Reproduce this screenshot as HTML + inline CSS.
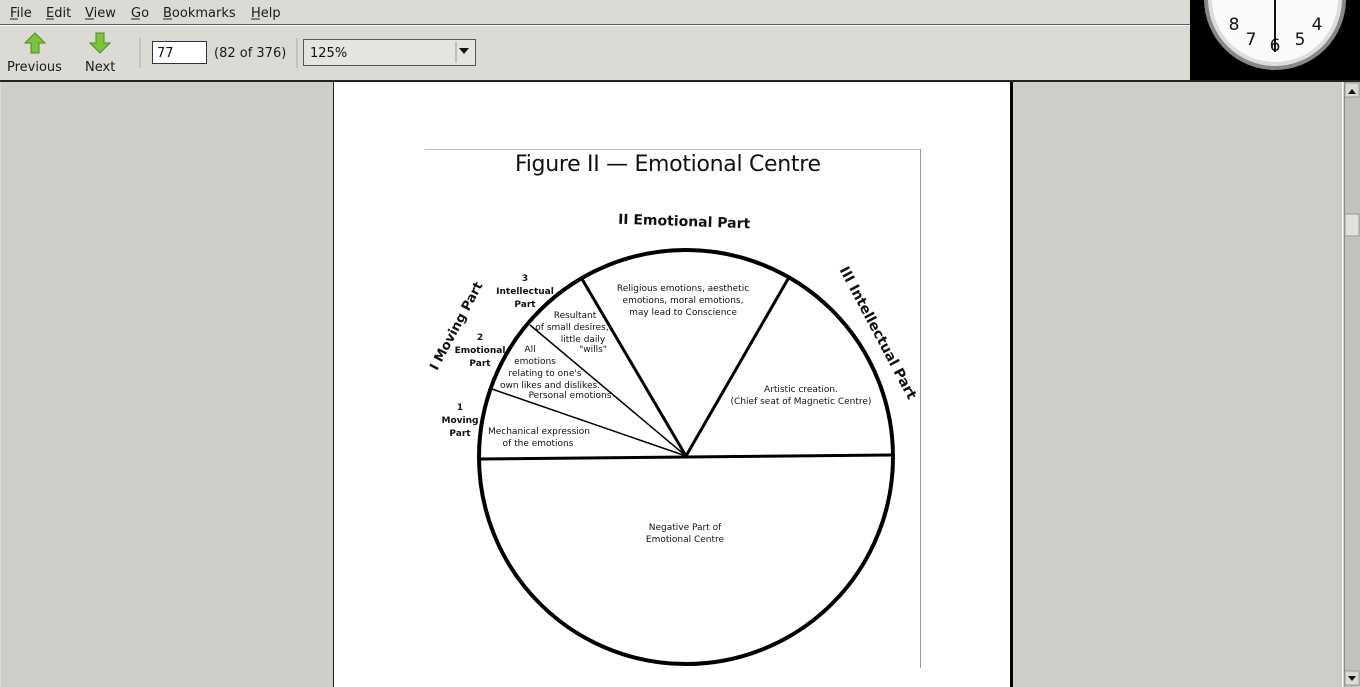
<!DOCTYPE html>
<html><head><meta charset="utf-8"><style>
html,body{margin:0;padding:0;width:1360px;height:687px;overflow:hidden;background:#dcdad5;font-family:"DejaVu Sans","Liberation Sans",sans-serif;}
</style></head><body>
<svg width="1360" height="687" viewBox="0 0 1360 687" xmlns="http://www.w3.org/2000/svg" style="position:absolute;left:0;top:0">
<rect x="0" y="0" width="1360" height="687" fill="#dcdad5"/>
<g font-family="DejaVu Sans,sans-serif" font-size="13" fill="#1a1a1a">
<text x="10" y="17">File</text><line x1="10" y1="19" x2="18" y2="19" stroke="#222"/>
<text x="46" y="17">Edit</text><line x1="46" y1="19" x2="54" y2="19" stroke="#222"/>
<text x="85" y="17">View</text><line x1="85" y1="19" x2="94" y2="19" stroke="#222"/>
<text x="131" y="17">Go</text><line x1="131" y1="19" x2="140" y2="19" stroke="#222"/>
<text x="163" y="17">Bookmarks</text><line x1="163" y1="19" x2="172" y2="19" stroke="#222"/>
<text x="251" y="17">Help</text><line x1="251" y1="19" x2="260" y2="19" stroke="#222"/>
</g>
<line x1="0" y1="24.5" x2="1190" y2="24.5" stroke="#5a5a5a"/>
<line x1="0" y1="25.5" x2="1190" y2="25.5" stroke="#fff"/>
<polygon points="35,33 45,43 39,43 39,53 31,53 31,43 25,43" fill="#7cc53a" stroke="#4b8c1e"/>
<polygon points="100,53 110,43 104,43 104,33 96,33 96,43 90,43" fill="#7cc53a" stroke="#4b8c1e"/>
<g font-size="13" fill="#1a1a1a">
<text x="7" y="71">Previous</text>
<text x="85" y="71">Next</text>
<text x="214" y="57">(82 of 376)</text>
</g>
<line x1="140" y1="38" x2="140" y2="68" stroke="#aaa"/>
<line x1="297" y1="38" x2="297" y2="68" stroke="#aaa"/>
<rect x="152.5" y="41.5" width="54" height="22" fill="#fff" stroke="#333"/>
<text x="157" y="57" font-size="13" fill="#111">77</text>
<rect x="303.5" y="39.5" width="172" height="26" fill="#e6e4e0" stroke="#555"/>
<line x1="456" y1="42" x2="456" y2="63" stroke="#999"/>
<polygon points="459,48 469,48 464,54" fill="#111"/>
<text x="310" y="57" font-size="13" fill="#111">125%</text>
<rect x="1190" y="0" width="170" height="82" fill="#000"/>
<circle cx="1275" cy="-1" r="71" fill="#888"/>
<circle cx="1275" cy="-1" r="67" fill="#ddd"/>
<circle cx="1275" cy="-1" r="63" fill="#fafafa"/>
<g font-size="17" fill="#111" font-family="DejaVu Sans,sans-serif" text-anchor="middle">
<text x="1234" y="30">8</text><text x="1251" y="45">7</text><text x="1275" y="51">6</text><text x="1300" y="45">5</text><text x="1317" y="30">4</text>
</g>
<line x1="1275" y1="-20" x2="1275" y2="52" stroke="#111" stroke-width="2"/>
<line x1="0" y1="81" x2="1360" y2="81" stroke="#222" stroke-width="2"/>
<rect x="1" y="82" width="332" height="605" fill="#cfcdc8"/>
<line x1="333.5" y1="82" x2="333.5" y2="687" stroke="#222"/>
<rect x="334" y="82" width="676" height="605" fill="#fff"/>
<rect x="1010" y="82" width="3" height="605" fill="#000"/>
<rect x="1013" y="82" width="330" height="605" fill="#cfcdc8"/>
<line x1="1342.5" y1="82" x2="1342.5" y2="687" stroke="#fff"/>
<rect x="1344" y="82" width="16" height="605" fill="#c3c1bc"/>
<line x1="1344.5" y1="82" x2="1344.5" y2="687" stroke="#888"/>
<rect x="1345" y="83" width="14" height="14" fill="#dcdad5" stroke="#999"/>
<polygon points="1348,94 1356,94 1352,89" fill="#111"/>
<rect x="1345" y="214" width="14" height="22" fill="#e2e0dc" stroke="#999"/>
<rect x="1345" y="671" width="14" height="14" fill="#dcdad5" stroke="#999"/>
<polygon points="1348,676 1356,676 1352,681" fill="#111"/>
<line x1="425" y1="149.5" x2="920" y2="149.5" stroke="#bbb"/>
<line x1="920.5" y1="149" x2="920.5" y2="668" stroke="#999"/>
<text x="668" y="171" font-family="DejaVu Sans,sans-serif" font-size="22" text-anchor="middle" fill="#111" textLength="306">Figure  II — Emotional  Centre</text>
<circle cx="686" cy="457" r="207" fill="none" stroke="#000" stroke-width="4"/>
<line x1="479" y1="459" x2="893" y2="455" stroke="#000" stroke-width="3"/>
<line x1="686" y1="456" x2="489" y2="388" stroke="#000" stroke-width="1.5"/>
<line x1="686" y1="456" x2="530" y2="325" stroke="#000" stroke-width="1.5"/>
<line x1="686" y1="456" x2="582" y2="279" stroke="#000" stroke-width="3"/>
<line x1="686" y1="456" x2="788" y2="279" stroke="#000" stroke-width="3"/>
<g font-family="DejaVu Sans,sans-serif" font-size="9" fill="#111" text-anchor="middle">
<text x="683" y="291">Religious emotions, aesthetic</text>
<text x="683" y="303">emotions, moral emotions,</text>
<text x="683" y="315">may lead to Conscience</text>
<text x="801" y="392">Artistic creation.</text>
<text x="801" y="404">(Chief seat of Magnetic Centre)</text>
<text x="685" y="530">Negative Part of</text>
<text x="685" y="542">Emotional Centre</text>
<text x="539" y="434">Mechanical expression</text>
<text x="538" y="446">of the emotions</text>
<text x="575" y="318">Resultant</text>
<text x="572" y="330">of small desires,</text>
<text x="583" y="342">little daily</text>
<text x="593" y="352">"wills"</text>
<text x="530" y="352">All</text>
<text x="535" y="364">emotions</text>
<text x="545" y="376">relating to one's</text>
<text x="550" y="388">own likes and dislikes.</text>
<text x="570" y="398">Personal emotions</text>
<g font-weight="bold">
<text x="525" y="281">3</text><text x="525" y="294">Intellectual</text><text x="525" y="307">Part</text>
<text x="480" y="340">2</text><text x="480" y="353">Emotional</text><text x="480" y="366">Part</text>
<text x="460" y="410">1</text><text x="460" y="423">Moving</text><text x="460" y="436">Part</text>
</g>
</g>
<g font-family="DejaVu Sans,sans-serif" font-size="14" fill="#111" font-weight="bold">
<text x="684" y="226" text-anchor="middle" transform="rotate(2 684 226)">II Emotional  Part</text>
<text x="0" y="0" transform="translate(874,335) rotate(62)" text-anchor="middle">III  Intellectual  Part</text>
<text x="0" y="0" transform="translate(460,328) rotate(-62)" text-anchor="middle" font-size="13">I  Moving  Part</text>
</g>
</svg>
</body></html>
